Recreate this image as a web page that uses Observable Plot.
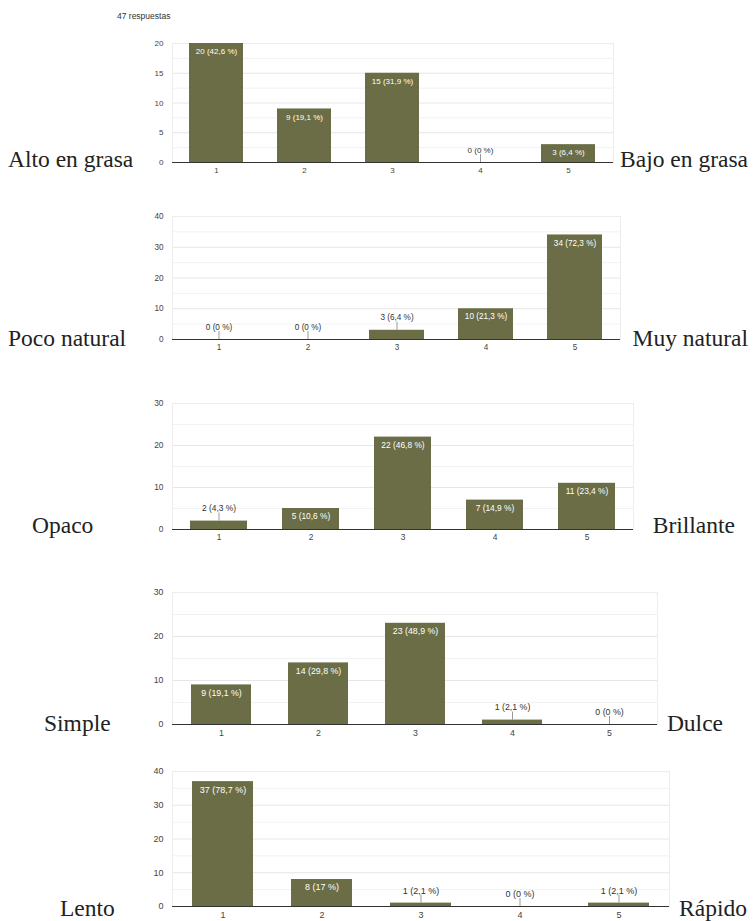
<!DOCTYPE html>
<html><head><meta charset="utf-8">
<script src="https://cdn.jsdelivr.net/npm/d3@7"></script>
<script src="https://cdn.jsdelivr.net/npm/@observablehq/plot@0.6"></script>
<style>
html,body{margin:0;padding:0;background:#fff;}
#root{position:relative;width:753px;height:921px;overflow:hidden;font-family:"Liberation Sans",Arial,sans-serif;}
.panel{position:absolute;}
#overlay{position:absolute;left:0;top:0;pointer-events:none;}
#count{position:absolute;left:117px;top:11px;font-size:8.5px;color:#333;white-space:nowrap;}
</style></head><body>
<div id="root"><div id="count"></div></div>
<script>
// ---- data ----
const totalLabel = "47 respuestas";
const scores = ["1","2","3","4","5"];
const grasaCounts = [20, 9, 15, 0, 3];
const grasaPct = ["42,6","19,1","31,9","0","6,4"];
const naturalCounts = [0, 0, 3, 10, 34];
const naturalPct = ["0","0","6,4","21,3","72,3"];
const brilloCounts = [2, 5, 22, 7, 11];
const brilloPct = ["4,3","10,6","46,8","14,9","23,4"];
const saborCounts = [9, 14, 23, 1, 0];
const saborPct = ["19,1","29,8","48,9","2,1","0"];
const rapidezCounts = [37, 8, 1, 0, 1];
const rapidezPct = ["78,7","17","2,1","0","2,1"];
const leftLabels = ["Alto en grasa","Poco natural","Opaco","Simple","Lento"];
const rightLabels = ["Bajo en grasa","Muy natural","Brillante","Dulce","Rápido"];
const yMaxima = [20, 40, 30, 30, 40];
const yTickSteps = [5, 10, 10, 10, 10];

// ---- layout (pixels) ----
const PLOT_LEFT = 172;
const ML = 40, MR = 2, MT = 6, MB = 18;
const layout = [
  {top:43,  h:119, w:441, fs:8.0, lx:8,  ly:167, rx:748, ry:167},
  {top:216, h:123, w:448, fs:8.2, lx:8,  ly:346, rx:748, ry:346},
  {top:403, h:126, w:461, fs:8.4, lx:32, ly:533, rx:735, ry:533},
  {top:592, h:132, w:485, fs:8.8, lx:44, ly:731, rx:723, ry:731},
  {top:771, h:135, w:497, fs:9.0, lx:60, ly:916, rx:747, ry:916}
];
const countsAll = [grasaCounts, naturalCounts, brilloCounts, saborCounts, rapidezCounts];
const pctAll = [grasaPct, naturalPct, brilloPct, saborPct, rapidezPct];
const BAR = "#6a6d46";
const PAD = 0.385;

const root = document.getElementById("root");
document.getElementById("count").textContent = totalLabel;

function panel(k) {
  const L = layout[k], yMax = yMaxima[k], step = yTickSteps[k], fs = L.fs;
  const data = scores.map((s, i) => ({score: s, count: countsAll[k][i], label: `${countsAll[k][i]} (${pctAll[k][i]} %)`}));
  const major = d3.range(0, yMax + step / 2, step);
  const minor = d3.range(step / 2, yMax, step);
  const inside = data.filter(d => d.count / yMax * L.h >= 15);
  const outside = data.filter(d => d.count / yMax * L.h < 15);
  const svg = Plot.plot({
    width: ML + L.w + MR, height: MT + L.h + MB,
    marginLeft: ML, marginRight: MR, marginTop: MT, marginBottom: MB,
    style: {fontFamily: '"Liberation Sans", Arial, sans-serif', fontSize: fs + "px", color: "#444", background: "transparent", overflow: "visible"},
    x: {domain: scores, paddingInner: PAD, paddingOuter: PAD / 2, label: null},
    y: {domain: [0, yMax], label: null},
    marks: [
      Plot.ruleY(minor, {stroke: "#f2f2f2"}),
      Plot.ruleY(major.slice(1), {stroke: "#e6e6e6"}),
      Plot.frame({stroke: "#ededed"}),
      Plot.barY(data, {x: "score", y: "count", fill: BAR}),
      Plot.ruleY([0], {stroke: "#333", strokeWidth: 1.2}),
      Plot.ruleX(outside, {x: "score", y1: "count", y2: "count", insetBottom: 8, stroke: "#999"}),
      Plot.text(inside, {x: "score", y: "count", text: "label", dy: 8, fill: "white", fontSize: fs}),
      Plot.text(outside, {x: "score", y: "count", text: "label", dy: -12.5, fill: "#333", fontSize: fs}),
      Plot.axisY({ticks: major, tickSize: 0, tickPadding: 9, tickFormat: d => d, fontSize: fs, label: null}),
      Plot.axisX({tickSize: 0, tickPadding: 5, fontSize: fs, label: null})
    ]
  });
  svg.classList.add("panel");
  svg.style.left = (PLOT_LEFT - ML) + "px";
  svg.style.top = (L.top - MT) + "px";
  root.appendChild(svg);
}
for (let k = 0; k < 5; k++) panel(k);

// side labels
const ns = "http://www.w3.org/2000/svg";
const ov = document.createElementNS(ns, "svg");
ov.setAttribute("id", "overlay");
ov.setAttribute("width", 753); ov.setAttribute("height", 921);
layout.forEach((L, k) => {
  [[leftLabels[k], L.lx, L.ly, "start"], [rightLabels[k], L.rx, L.ry, "end"]].forEach(([t, x, y, a]) => {
    const el = document.createElementNS(ns, "text");
    el.setAttribute("x", x); el.setAttribute("y", y);
    el.setAttribute("text-anchor", a);
    el.setAttribute("font-family", '"Liberation Serif", serif');
    el.setAttribute("font-size", 23.5);
    el.setAttribute("fill", "#222");
    el.textContent = t;
    ov.appendChild(el);
  });
});
root.appendChild(ov);
</script>
</body></html>
